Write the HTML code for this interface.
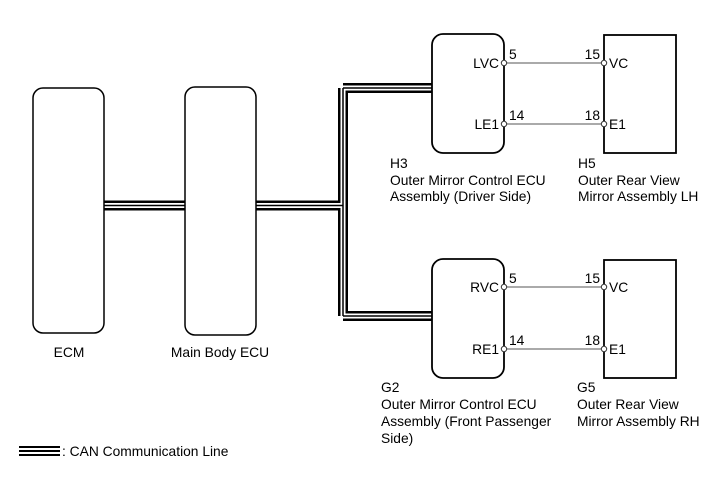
<!DOCTYPE html>
<html><head><style>
body{margin:0;background:#fff;}
svg{display:block;font-family:"Liberation Sans",Arial,sans-serif;}
</style></head><body>
<svg width="713" height="481" viewBox="0 0 713 481" xmlns="http://www.w3.org/2000/svg">
<g fill="none" stroke="#000">
<path d="M104 205.5 H185 M256 205.5 H343 M343 88 V316 M343 88 H432 M343 316 H432" stroke-width="10" stroke-linejoin="miter"/>
<path d="M104 205.5 H185 M256 205.5 H343 M343 88 V316 M343 88 H432 M343 316 H432" stroke-width="5" stroke="#fff"/>
<path d="M104 205.5 H185 M256 205.5 H343 M343 88 V316 M343 88 H432 M343 316 H432" stroke-width="1.5"/>
<rect x="33" y="88" width="71" height="245" rx="10" stroke-width="1.5"/>
<rect x="185" y="87" width="71" height="248" rx="10" stroke-width="1.5"/>
<rect x="432" y="34" width="72" height="119" rx="11" stroke-width="1.8"/>
<rect x="432" y="259" width="72" height="119" rx="11" stroke-width="1.8"/>
<rect x="604" y="35" width="72" height="118" stroke-width="1.8"/>
<rect x="604" y="260" width="72" height="118" stroke-width="1.8"/>
<g stroke="#555" stroke-width="1">
<line x1="504" y1="63" x2="604" y2="63"/>
<line x1="504" y1="124" x2="604" y2="124"/>
<line x1="504" y1="287" x2="604" y2="287"/>
<line x1="504" y1="349" x2="604" y2="349"/>
</g>
<g fill="#fff" stroke="#333" stroke-width="1">
<circle cx="504" cy="63" r="2.7"/><circle cx="504" cy="124" r="2.7"/>
<circle cx="604" cy="63" r="2.7"/><circle cx="604" cy="124" r="2.7"/>
<circle cx="504" cy="287" r="2.7"/><circle cx="504" cy="349" r="2.7"/>
<circle cx="604" cy="287" r="2.7"/><circle cx="604" cy="349" r="2.7"/>
</g>
<g stroke-width="2"><line x1="19" y1="447" x2="60" y2="447"/><line x1="19" y1="451" x2="60" y2="451"/><line x1="19" y1="455" x2="60" y2="455"/></g>
</g>
<g font-size="13.8" fill="#000">
<text x="499" y="68" text-anchor="end">LVC</text>
<text x="499" y="129" text-anchor="end">LE1</text>
<text x="499" y="292" text-anchor="end">RVC</text>
<text x="499" y="354" text-anchor="end">RE1</text>
<text x="509" y="59">5</text><text x="509" y="120">14</text>
<text x="509" y="283">5</text><text x="509" y="345">14</text>
<text x="600" y="59" text-anchor="end">15</text><text x="600" y="120" text-anchor="end">18</text>
<text x="600" y="283" text-anchor="end">15</text><text x="600" y="345" text-anchor="end">18</text>
<text x="609" y="68">VC</text><text x="609" y="129">E1</text>
<text x="609" y="292">VC</text><text x="609" y="354">E1</text>
<text x="69" y="357" text-anchor="middle">ECM</text>
<text x="220" y="357" text-anchor="middle">Main Body ECU</text>
<text x="390" y="168">H3</text>
<text x="390" y="185">Outer Mirror Control ECU</text>
<text x="390" y="201">Assembly (Driver Side)</text>
<text x="578" y="168">H5</text>
<text x="578" y="185">Outer Rear View</text>
<text x="578" y="201">Mirror Assembly LH</text>
<text x="381" y="392">G2</text>
<text x="381" y="409">Outer Mirror Control ECU</text>
<text x="381" y="426">Assembly (Front Passenger</text>
<text x="381" y="443">Side)</text>
<text x="577" y="392">G5</text>
<text x="577" y="409">Outer Rear View</text>
<text x="577" y="426">Mirror Assembly RH</text>
<text x="62" y="456">: CAN Communication Line</text>
</g>
</svg>
</body></html>
